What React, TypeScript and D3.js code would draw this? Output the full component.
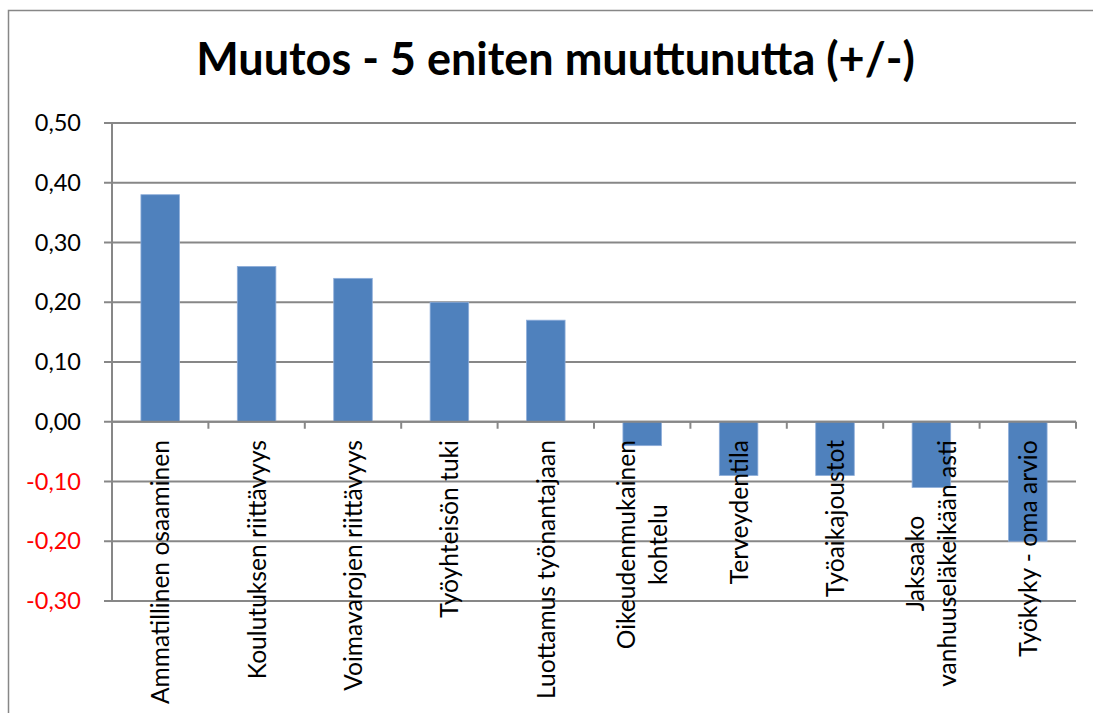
import React from "react";
import * as d3 from "d3";

const title = "Muutos - 5 eniten muuttunutta (+/-)";
const categories = [
  "Ammatillinen osaaminen",
  "Koulutuksen riittävyys",
  "Voimavarojen riittävyys",
  "Työyhteisön tuki",
  "Luottamus työnantajaan",
  "Oikeudenmukainen kohtelu",
  "Terveydentila",
  "Työaikajoustot",
  "Jaksaako vanhuuseläkeikään asti",
  "Työkyky - oma arvio",
];
const categoryLines = [
  ["Ammatillinen osaaminen"],
  ["Koulutuksen riittävyys"],
  ["Voimavarojen riittävyys"],
  ["Työyhteisön tuki"],
  ["Luottamus työnantajaan"],
  ["Oikeudenmukainen", "kohtelu"],
  ["Terveydentila"],
  ["Työaikajoustot"],
  ["Jaksaako", "vanhuuseläkeikään asti"],
  ["Työkyky - oma arvio"],
];
const values = [0.38, 0.26, 0.24, 0.2, 0.17, -0.04, -0.09, -0.09, -0.11, -0.2];
const yTicks = [0.5, 0.4, 0.3, 0.2, 0.1, 0, -0.1, -0.2, -0.3];

const FONT = "Lato, 'Open Sans', sans-serif";
const LABEL_SIZE = 24.6;

let ctx: CanvasRenderingContext2D | null = null;
function measure(text: string, font: string) {
  if (!ctx) ctx = document.createElement("canvas").getContext("2d");
  if (!ctx) return text.length * 10;
  ctx.font = font;
  return ctx.measureText(text).width;
}

export default function App() {
  const left = 112,
    right = 1076,
    top = 123,
    bottom = 601;
  const y = d3.scaleLinear().domain([-0.3, 0.5]).range([bottom, top]);
  const x = d3
    .scaleBand<string>()
    .domain(categories)
    .range([left, right])
    .paddingInner(0.6)
    .paddingOuter(0.3);
  const step = x.step();
  const y0 = y(0);
  const fmt = (v: number) => d3.format(".2f")(v).replace(".", ",").replace("−", "-");
  const labelTop = 440;
  const lineGap = 32;

  return (
    <svg
      width={1093}
      height={713}
      style={{ position: "absolute", left: 0, top: 0, display: "block" }}
    >
      <rect x={0} y={0} width={1093} height={713} fill="#fff" />
      <rect
        x={8.5}
        y={10.5}
        width={1200}
        height={800}
        fill="none"
        stroke="#878787"
        strokeWidth={1.5}
      />
      <text
        x={555.5}
        y={75}
        textAnchor="middle"
        fontFamily={FONT}
        fontWeight="bold"
        fontSize={45}
        fill="#000"
      >
        {title}
      </text>
      {/* gridlines and y ticks */}
      {yTicks.map((t) => (
        <g key={t}>
          <line
            x1={left - 8}
            x2={right}
            y1={y(t)}
            y2={y(t)}
            stroke="#878787"
            strokeWidth={2}
          />
          <text
            x={81}
            y={y(t)}
            dy="0.35em"
            textAnchor="end"
            fontFamily={FONT}
            fontSize={23.5}
            fill={t < 0 ? "#FF0000" : "#000"}
          >
            {fmt(t)}
          </text>
        </g>
      ))}
      {/* y axis */}
      <line x1={left} x2={left} y1={top} y2={bottom} stroke="#878787" strokeWidth={2} />
      {/* category ticks */}
      {d3.range(categories.length + 1).map((i) => (
        <line
          key={i}
          x1={left + i * step}
          x2={left + i * step}
          y1={y0}
          y2={y0 + 7}
          stroke="#878787"
          strokeWidth={2}
        />
      ))}
      {/* bars */}
      {values.map((v, i) => (
        <rect
          key={i}
          x={x(categories[i])}
          y={Math.min(y(v), y0)}
          width={x.bandwidth()}
          height={Math.abs(y(v) - y0)}
          fill="#4F81BD"
          stroke="#8FAEDA"
          strokeWidth={0.8}
        />
      ))}
      {/* zero axis on top */}
      <line x1={left} x2={right} y1={y0} y2={y0} stroke="#878787" strokeWidth={2} />
      {/* category labels */}
      {categoryLines.map((lines, i) => {
        const cx = (x(categories[i]) as number) + x.bandwidth() / 2;
        const font = `${LABEL_SIZE}px ${FONT}`;
        const widths = lines.map((l) => measure(l, font));
        const maxW = Math.max(...widths);
        const mid = labelTop + maxW / 2;
        const n = lines.length;
        return lines.map((l, j) => {
          const bx = cx + 9 + (j - (n - 1) / 2) * lineGap;
          return (
            <text
              key={`${i}-${j}`}
              transform={`translate(${bx},${mid}) rotate(-90)`}
              textAnchor="middle"
              fontFamily={FONT}
              fontSize={LABEL_SIZE}
              fill="#000"
            >
              {l}
            </text>
          );
        });
      })}
    </svg>
  );
}
